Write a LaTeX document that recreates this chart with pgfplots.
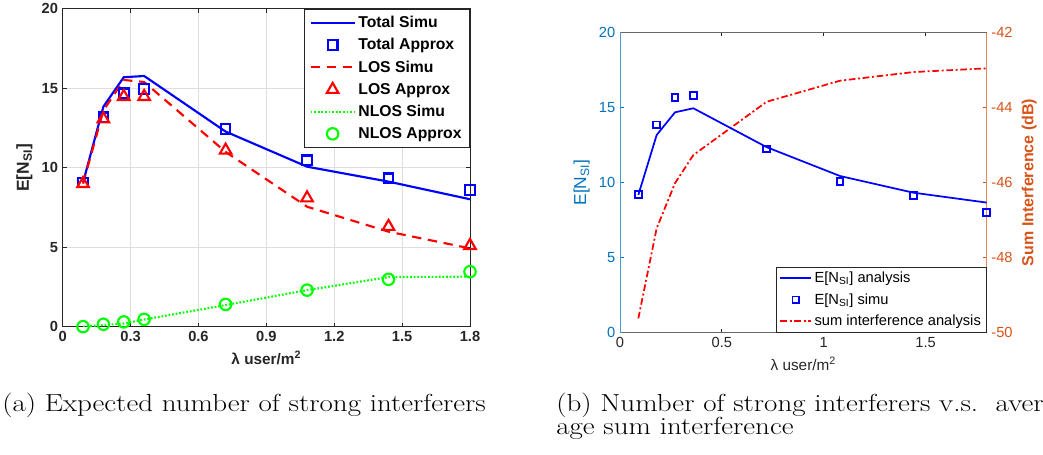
\documentclass[border=0pt]{standalone}
\usepackage{fontspec}
\usepackage{pgfplots}
\pgfplotsset{compat=1.18}
\newfontfamily\chartfont{Liberation Sans}
\definecolor{mblue}{rgb}{0,0.447,0.741}
\definecolor{morange}{rgb}{0.85,0.325,0.098}
\definecolor{axgray}{rgb}{0.15,0.15,0.15}
\definecolor{gridgray}{RGB}{222,222,222}
\pgfplotsset{
  legend image code/.code={%
    \draw[mark repeat=2,mark phase=2,#1] plot coordinates {(0pt,0pt) (16.5pt,0pt) (33pt,0pt)};},
}

\begin{document}
\begin{tikzpicture}
\useasboundingbox (0,0) rectangle (782.25pt,340.5pt);

% ---------- (a) ----------
\begin{axis}[
  at={(47pt,95.5pt)}, anchor=south west,
  scale only axis, width=305.5pt, height=238.3pt,
  xmin=0, xmax=1.8, ymin=0, ymax=20,
  xtick={0,0.3,0.6,0.9,1.2,1.5,1.8},
  xticklabels={0,0.3,0.6,0.9,1.2,1.5,1.8},
  ytick={0,5,10,15,20}, yticklabels={0,5,10,15,20},
  grid=major, grid style={gridgray, line width=0.7pt},
  axis line style={axgray, line width=0.7pt},
  tick style={axgray, line width=0.7pt}, tick align=inside, major tick length=3pt,
  ticklabel style={font=\chartfont\bfseries\fontsize{11}{13}\selectfont, text=axgray},
  xlabel={λ user/m\textsuperscript{2}},
  xlabel style={font=\chartfont\bfseries\fontsize{11.5}{13}\selectfont, text=axgray},
  ylabel={E[N\textsubscript{SI}]},
  ylabel style={font=\chartfont\bfseries\fontsize{13}{15}\selectfont, text=axgray},
  legend style={at={(1,1)}, anchor=north east, draw=axgray, line width=0.7pt,
    font=\chartfont\bfseries\fontsize{11.8}{13}\selectfont, text=black,
    row sep=2.7pt, inner xsep=4pt, inner ysep=3pt},
  legend cell align=left,
]
% Total Simu
\addplot[blue, line width=1.6pt] coordinates
  {(0.09,9.07)(0.18,13.85)(0.27,15.7)(0.36,15.78)(0.72,12.28)(1.08,10.07)(1.44,9.13)(1.8,8.02)};
\addlegendentry{Total Simu}
% Total Approx
\addplot[only marks, blue, mark=square, mark size=3.6pt, mark options={line width=1.6pt}] coordinates
  {(0.09,9.07)(0.18,13.18)(0.27,14.69)(0.36,14.96)(0.72,12.44)(1.08,10.47)(1.44,9.34)(1.8,8.6)};
\addlegendentry{Total Approx}
% LOS Simu
\addplot[red, line width=1.6pt, dash pattern=on 7pt off 5pt] coordinates
  {(0.09,9.0)(0.18,13.6)(0.27,15.53)(0.36,15.4)(0.72,11.0)(1.08,7.55)(1.44,5.98)(1.8,4.93)};
\addlegendentry{LOS Simu}
% LOS Approx
\addplot[only marks, red, mark=triangle, mark size=5pt, mark options={line width=1.6pt}] coordinates
  {(0.09,9.0)(0.18,13.07)(0.27,14.48)(0.36,14.48)(0.72,11.1)(1.08,8.1)(1.44,6.3)(1.8,5.1)};
\addlegendentry{LOS Approx}
% NLOS Simu
\addplot[green, line width=1.6pt, dash pattern=on 1.3pt off 1.4pt] coordinates
  {(0.09,0.0)(0.18,0.1)(0.27,0.2)(0.36,0.45)(0.72,1.36)(1.08,2.3)(1.44,3.12)(1.8,3.15)};
\addlegendentry{NLOS Simu}
% NLOS Approx
\addplot[only marks, green, mark=o, mark size=4.3pt, mark options={line width=1.6pt}] coordinates
  {(0.09,0.0)(0.18,0.15)(0.27,0.3)(0.36,0.46)(0.72,1.4)(1.08,2.3)(1.44,2.98)(1.8,3.46)};
\addlegendentry{NLOS Approx}
\end{axis}

% ---------- (b), right axis ----------
\begin{axis}[
  at={(465pt,91pt)}, anchor=south west,
  scale only axis, width=275pt, height=225.3pt,
  xmin=0, xmax=1.8, ymin=-50, ymax=-42,
  axis x line=none, axis y line*=right,
  ytick={-50,-48,-46,-44,-42}, yticklabels={-50,-48,-46,-44,-42},
  axis line style={morange!70, line width=0.7pt},
  tick style={morange, line width=0.7pt}, tick align=inside, major tick length=3pt,
  yticklabel style={font=\chartfont\fontsize{11}{13}\selectfont, text=morange},
  ylabel={Sum Interference (dB)},
  ylabel style={font=\chartfont\bfseries\fontsize{12}{14}\selectfont, text=morange},
]
\addplot[red, line width=1.3pt, dash pattern=on 5pt off 2pt on 1.5pt off 2pt] coordinates
  {(0.09,-49.62)(0.18,-47.22)(0.27,-46.02)(0.36,-45.27)(0.72,-43.85)(1.08,-43.29)(1.44,-43.06)(1.8,-42.96)};
\end{axis}

% ---------- (b), left axis ----------
\begin{axis}[
  at={(465pt,91pt)}, anchor=south west,
  scale only axis, width=275pt, height=225.3pt,
  xmin=0, xmax=1.8, ymin=0, ymax=20,
  axis x line=box, axis y line*=left,
  xtick={0,0.5,1,1.5}, xticklabels={0,0.5,1,1.5},
  ytick={0,5,10,15,20}, yticklabels={0,5,10,15,20},
  x axis line style={axgray!70, line width=0.7pt},
  y axis line style={mblue!70, line width=0.7pt},
  xtick style={axgray, line width=0.7pt}, ytick style={mblue, line width=0.7pt},
  tick align=inside, major tick length=3pt,
  xticklabel style={font=\chartfont\fontsize{11}{13}\selectfont, text=axgray},
  yticklabel style={font=\chartfont\fontsize{11}{13}\selectfont, text=mblue},
  xlabel={λ user/m\textsuperscript{2}},
  xlabel style={font=\chartfont\fontsize{11.5}{13}\selectfont, text=axgray},
  ylabel={E[N\textsubscript{SI}]},
  ylabel style={font=\chartfont\fontsize{13}{15}\selectfont, text=mblue},
  legend style={at={(1,0)}, anchor=south east, draw=axgray, line width=0.7pt,
    font=\chartfont\fontsize{11}{13}\selectfont, text=black,
    row sep=2.6pt, inner xsep=2pt, inner ysep=1.5pt},
  legend cell align=left,
  legend image code/.code={%
    \draw[mark repeat=2,mark phase=2,#1] plot coordinates {(0pt,0pt) (11.5pt,0pt) (23pt,0pt)};},
]
\addplot[blue, line width=1.3pt] coordinates
  {(0.09,9.17)(0.18,13.16)(0.27,14.67)(0.36,14.94)(0.72,12.35)(1.08,10.43)(1.44,9.32)(1.8,8.66)};
\addlegendentry{E[N\textsubscript{SI}] analysis}
\addplot[only marks, blue, mark=square, mark size=2.5pt, mark options={line width=1.3pt}] coordinates
  {(0.09,9.21)(0.18,13.83)(0.27,15.65)(0.36,15.78)(0.72,12.23)(1.08,10.06)(1.44,9.12)(1.8,8.01)};
\addlegendentry{E[N\textsubscript{SI}] simu}
\addlegendimage{red, line width=1.3pt, dash pattern=on 5pt off 2pt on 1.5pt off 2pt}
\addlegendentry{sum interference analysis}
\end{axis}

% ---------- captions ----------
\tikzset{capt/.style={anchor=base west, inner sep=0pt, xscale=1.175,
  font=\fontsize{18.5}{22}\selectfont}}
\node[capt] at (1.5pt,31.7pt) {(a) Expected number of strong interferers};
\node[capt] at (417pt,31.7pt) {(b) Number of strong interferers v.s.\ \ aver-};
\node[capt] at (417pt,15pt) {age sum interference};
\end{tikzpicture}
\end{document}
